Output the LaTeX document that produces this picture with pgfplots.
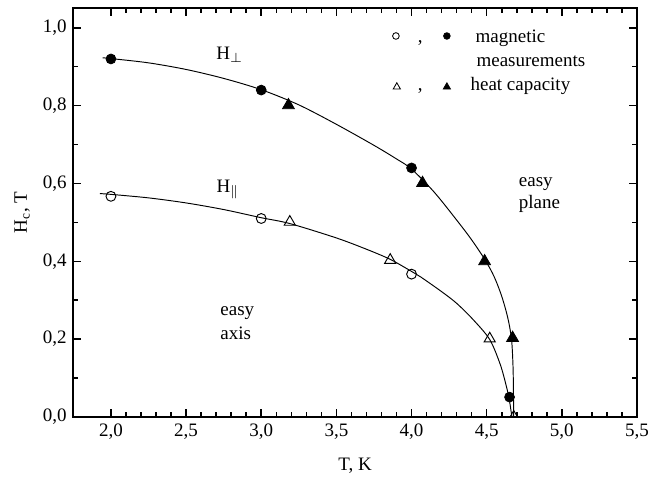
\documentclass[border=0pt]{standalone}
\usepackage{fontspec}
\setmainfont{Liberation Serif}
\usepackage{pgfplots}
\pgfplotsset{compat=1.18}

\begin{document}
\begin{tikzpicture}
\begin{axis}[
    scale only axis,
    width=296.6pt, height=215pt,
    xmin=1.75, xmax=5.5,
    ymin=0, ymax=1.05,
    xtick={2,2.5,3,3.5,4,4.5,5,5.5},
    ytick={0,0.2,0.4,0.6,0.8,1.0},
    minor x tick num=4,
    minor y tick num=1,
    tick align=inside,
    major tick length=4pt,
    minor tick length=2.4pt,
    axis line style={line width=1pt},
    every tick/.style={black, line width=0.8pt},
    xlabel={T, K},
    ylabel={H\textsubscript{c}, T},
    xlabel style={yshift=-3pt},
    clip marker paths=true,
    /pgf/number format/fixed,
    /pgf/number format/fixed zerofill,
    /pgf/number format/precision=1,
    /pgf/number format/use comma,
    /pgf/number format/assume math mode=true,
]

% fitted curves
\addplot[black, line width=0.5pt, smooth, tension=0.5] coordinates {
    (1.945,0.923) (2.0,0.921) (2.25,0.910) (2.5,0.893) (2.75,0.870)
    (3.0,0.841) (3.25,0.802) (3.5,0.752) (3.75,0.698) (3.9,0.663)
    (4.0,0.637) (4.15,0.578) (4.3,0.506) (4.4,0.455) (4.49,0.403)
    (4.55,0.36) (4.6,0.31) (4.64,0.255) (4.665,0.20) (4.675,0.13)
    (4.678,0.06) (4.679,0.0)
};
\addplot[black, line width=0.5pt, smooth, tension=0.5] coordinates {
    (1.927,0.574) (2.0,0.572) (2.25,0.563) (2.5,0.550) (2.75,0.533)
    (3.0,0.512) (3.19,0.497) (3.5,0.460) (3.7,0.431) (3.858,0.405)
    (4.0,0.374) (4.06,0.360) (4.2,0.322) (4.3,0.292) (4.41,0.250)
    (4.52,0.199) (4.59,0.135) (4.63,0.08) (4.65,0.045) (4.662,0.015)
    (4.668,0.0)
};

% magnetic measurements
\addplot[only marks, mark=*, mark size=2.6pt, black] coordinates {
    (2.0,0.920) (3.0,0.840) (4.0,0.640) (4.652,0.051)
};
\addplot[only marks, mark=o, mark size=2.6pt, black, mark options={fill=white, line width=0.5pt}] coordinates {
    (2.0,0.567) (3.0,0.510) (4.0,0.367)
};

% heat capacity
\addplot[only marks, mark=triangle*, mark size=3.6pt, black] coordinates {
    (3.181,0.801) (4.073,0.601) (4.486,0.400) (4.672,0.203)
};
\addplot[only marks, mark=triangle, mark size=3.4pt, black, mark options={line width=0.5pt}] coordinates {
    (3.19,0.501) (3.858,0.403) (4.52,0.201) (4.68,0.0)
};

% key
\addplot[only marks, mark=o, mark size=1.75pt, black, mark options={line width=0.45pt}] coordinates {(3.896,0.979)};
\addplot[only marks, mark=*, mark size=1.75pt, black] coordinates {(4.235,0.979)};
\addplot[only marks, mark=triangle, mark size=2.2pt, black, mark options={line width=0.45pt}] coordinates {(3.902,0.848)};
\addplot[only marks, mark=triangle*, mark size=2.2pt, black] coordinates {(4.235,0.848)};

\node[anchor=base] at (axis cs:4.058,0.961) {,};
\node[anchor=base] at (axis cs:4.058,0.838) {,};
\node[anchor=base west, inner sep=0pt] at (axis cs:4.424,0.961) {magnetic};
\node[anchor=base west, inner sep=0pt] at (axis cs:4.43,0.900) {measurements};
\node[anchor=base west, inner sep=0pt] at (axis cs:4.39,0.838) {heat capacity};

% curve labels and regions
\node[anchor=base west, inner sep=0pt] at (axis cs:2.699,0.919) {H$_\perp$};
\node[anchor=base west, inner sep=0pt] at (axis cs:2.70,0.578) {H$_{\|}$};
\node[anchor=base west, inner sep=0pt] at (axis cs:2.726,0.260) {easy};
\node[anchor=base west, inner sep=0pt] at (axis cs:2.726,0.200) {axis};
\node[anchor=base west, inner sep=0pt] at (axis cs:4.712,0.591) {easy};
\node[anchor=base west, inner sep=0pt] at (axis cs:4.712,0.536) {plane};

\end{axis}
\pgfresetboundingbox
\path[use as bounding box] ([shift={(-38.6pt,-35.4pt)}]current axis.south west) rectangle ([shift={(6.3pt,4.4pt)}]current axis.north east);
\end{tikzpicture}
\end{document}
